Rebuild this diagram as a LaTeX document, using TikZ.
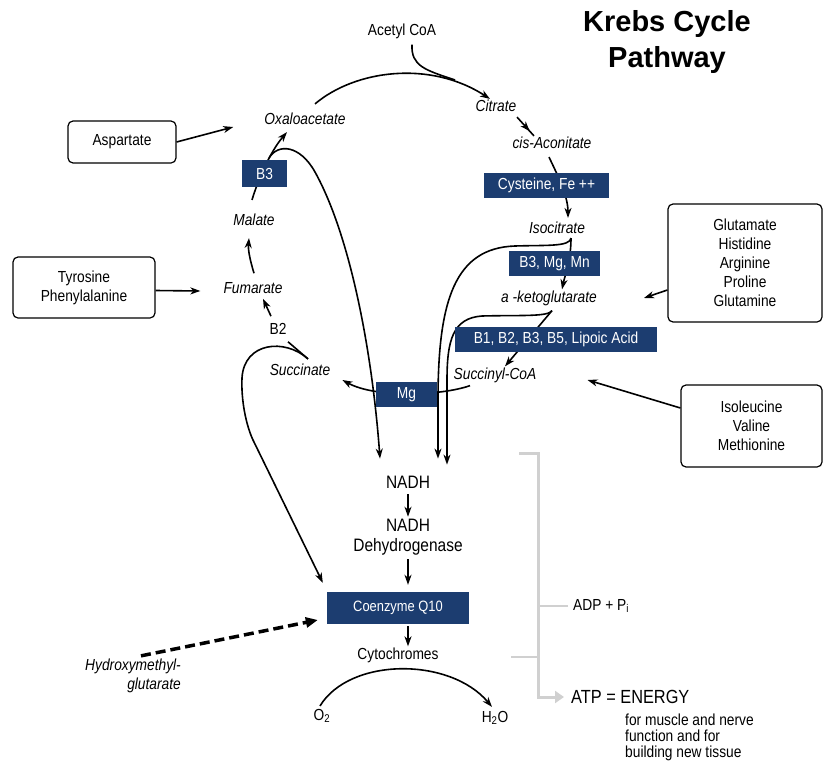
\documentclass[tikz,border=0pt]{standalone}
\usepackage{fontspec}
\setmainfont{Liberation Sans}[FakeStretch=0.86]
\newfontfamily\titlefont{Liberation Sans}
\usepackage{tikz}
\usetikzlibrary{arrows.meta,positioning,calc,decorations.markings}
\definecolor{vitblue}{RGB}{28,61,112}
\definecolor{bargray}{RGB}{208,208,208}

\begin{document}
\begin{tikzpicture}[x=1pt,y=-1pt,
    lbl/.style={font=\fontsize{16}{19}\selectfont, inner sep=1pt},
    met/.style={inner sep=1pt, font=\fontsize{16}{19}\selectfont\itshape},
    vit/.style={fill=vitblue, text=white, font=\fontsize{16}{19}\selectfont, minimum height=25pt, inner sep=2pt},
    amino/.style={draw, rounded corners=5pt, line width=1.2pt, align=center, font=\fontsize{16}{19}\selectfont},
    arr/.style={line width=1.6pt, -{Stealth[length=10pt,width=7pt,inset=3pt]}},
    midarr/.style={line width=1.6pt, postaction={decorate}, decoration={markings, mark=at position 0.75 with {\arrow{Stealth[length=10pt,width=7pt,inset=3pt]}}}},
    bracket/.style={draw=bargray, line width=3pt}]
    \useasboundingbox (0,0) rectangle (828,763);

    \node[font=\titlefont\bfseries\fontsize{29}{36}\selectfont, align=center] (title) at (667,42) {Krebs Cycle\\Pathway};

    % cycle intermediates
    \node[lbl] (acetyl) at (402,31) {Acetyl CoA};
    \node[met] (citrate) at (496,106) {Citrate};
    \node[met] (cisacon) at (552,143) {cis-Aconitate};
    \node[met] (isocit) at (557,228) {Isocitrate};
    \node[met] (akg) at (549,298) {a -ketoglutarate};
    \node[met] (succoa) at (495,375) {Succinyl-CoA};
    \node[met] (succin) at (300,370) {Succinate};
    \node[lbl] (b2) at (278,329) {B2};
    \node[met] (fumar) at (253,288) {Fumarate};
    \node[met] (malate) at (254,220) {Malate};
    \node[met] (oxalo) at (305,119) {Oxaloacetate};

    % amino acids feeding in
    \node[amino, minimum width=108pt, minimum height=42pt] (asp) at (122,142) {Aspartate};
    \node[amino, minimum width=142pt, minimum height=61pt] (tyr) at (84,287.5) {Tyrosine\\Phenylalanine};
    \node[amino, minimum width=154pt, minimum height=118pt] (glu) at (745,263) {Glutamate\\Histidine\\Arginine\\Proline\\Glutamine};
    \node[amino, minimum width=141pt, minimum height=82pt] (ile) at (751.5,426) {Isoleucine\\Valine\\Methionine};

    % electron transport
    \node[lbl, font=\fontsize{18}{20}\selectfont] (nadh) at (408,482) {NADH};
    \node[lbl, font=\fontsize{18}{20}\selectfont, align=center] (dehyd) at (408,537) {NADH\\Dehydrogenase};
    \node[vit, minimum width=142pt, minimum height=32pt, font=\fontsize{15}{18}\selectfont] (coq) at (398,608) {Coenzyme Q10};
    \node[lbl] (cyto) at (398,655) {Cytochromes};
    \node[lbl] (o2) at (322,716) {O\textsubscript{2}};
    \node[lbl] (h2o) at (495,718) {H\textsubscript{2}O};
    \node[met, align=right, anchor=east] (hmg) at (182,676) {Hydroxymethyl-\\glutarate};

    % energy output
    \node[lbl, anchor=west] (adp) at (572,606) {ADP + P\textsubscript{i}};
    \node[lbl, anchor=west, font=\fontsize{19}{22}\selectfont] (atp) at (570,697) {ATP = ENERGY};
    \node[lbl, anchor=north west, align=left, font=\fontsize{16}{16}\selectfont] (note) at (624,713) {for muscle and nerve\\function and for\\building new tissue};

    % Cycle arrows
    \coordinate (merge) at (455,80);
    \draw[arr] ([xshift=10pt,yshift=8pt]oxalo.north) .. controls (355,70) and (430,60) .. ([xshift=-6pt]citrate.north);
    \draw[line width=1.6pt] ([xshift=10pt,yshift=-5pt]acetyl.south) .. controls (411,66) and (425,70) .. (merge);
    \draw[midarr] ([xshift=21pt,yshift=-4pt]citrate.south) -- ([xshift=-18pt]cisacon.north);
    \draw[arr] ([xshift=-3pt,yshift=-7pt]cisacon.south) .. controls (556,172) and (568,195) .. ([xshift=11pt,yshift=3pt]isocit.north);
    \draw[arr] ([xshift=14pt,yshift=-3pt]isocit.south) .. controls (571,260) and (565,275) .. ([xshift=13pt]akg.north);
    \draw[arr] ([xshift=3pt,yshift=-4pt]akg.south) -- ([xshift=10pt]succoa.north);
    \draw[arr] ([xshift=-25pt,yshift=-2pt]succoa.south) .. controls (440,396) and (375,398) .. ([xshift=11pt,yshift=-10pt]succin.east);
    \draw[line width=1.6pt] ([xshift=8pt,yshift=4pt]succin.north) -- ([xshift=10pt,yshift=-6pt]b2.south);
    \draw[arr] ([xshift=-7pt,yshift=6pt]b2.north) -- ([xshift=10pt,yshift=-4pt]fumar.south);
    \draw[arr] ([xshift=1pt,yshift=8pt]fumar.north) .. controls (250,260) and (248,250) .. ([xshift=-5pt,yshift=-11pt]malate.south);
    \draw[arr] ([xshift=-2pt,yshift=13pt]malate.north) .. controls (258,180) and (270,152) .. ([xshift=-18pt,yshift=-6pt]oxalo.south);

    % NADH branches
    \coordinate (loopstart) at (269,158);
    \draw[arr] (loopstart) .. controls (278,143) and (300,145) .. (315,172) .. controls (350,235) and (372,350) .. ([xshift=-28pt,yshift=16pt]nadh.north);
    \draw[arr] ([xshift=14pt,yshift=-3pt]isocit.south) .. controls (570,247) and (545,245) .. (515,246) .. controls (455,248) and (438,300) .. (438,400) -- ([xshift=30pt,yshift=16pt]nadh.north);
    \draw[arr] ([xshift=3pt,yshift=-4pt]akg.south) .. controls (548,317) and (520,315) .. (482,316) .. controls (453,318) and (447,340) .. (447,380) -- ([xshift=39pt,yshift=10pt]nadh.north);
    \draw[arr] ([xshift=8pt,yshift=4pt]succin.north) .. controls (285,338) and (244,342) .. (242,378) .. controls (241,400) and (246,425) .. (253,440) -- ([xshift=-4pt,yshift=9pt]coq.north west);

    % amino acid arrows
    \draw[arr] (asp.east) -- ([xshift=-30pt,yshift=-8pt]oxalo.west);
    \draw[arr] ([yshift=-3pt]tyr.east) -- ([xshift=-22pt,yshift=-3pt]fumar.west);
    \draw[arr] ([yshift=-27pt]glu.west) -- ([xshift=46pt]akg.east);
    \draw[arr] ([yshift=18pt]ile.west) -- ([xshift=50pt,yshift=-5pt]succoa.east);

    % electron transport chain
    \draw[arr] ([yshift=-5pt]nadh.south) -- ([yshift=1pt]dehyd.north);
    \draw[arr] ([yshift=-3pt]dehyd.south) -- ([yshift=7pt]coq.north -| dehyd.south);
    \draw[arr] ([yshift=-2pt]coq.south -| nadh.south) -- (cyto.north -| nadh.south);
    \draw[arr] ([xshift=-2pt,yshift=2pt]o2.north) .. controls (350,657) and (450,657) .. ([xshift=-3pt,yshift=3pt]h2o.north);
    \draw[line width=3.5pt, dash pattern=on 10pt off 5pt, -{Triangle[length=12pt,width=10pt]}] ([xshift=8pt,yshift=2pt]hmg.north) -- ([xshift=-9pt,yshift=-12pt]coq.west);

    % ATP bracket
    \coordinate (brtop) at (519,453);
    \coordinate (brmid) at (538,453);
    \coordinate (brlow) at (538,697);
    \coordinate (cytick) at (511,657);
    \draw[bracket, -{Triangle[length=9pt,width=12pt]}] (brtop) -- (brmid) -- (brlow) -- ([xshift=-6pt]atp.west);
    \draw[bracket, line width=1.5pt] ([xshift=-4pt]adp.west) -- (adp.west -| brmid);
    \draw[bracket, line width=1.5pt] (cytick) -- (cytick -| brmid);

    % vitamin / mineral cofactors
    \node[vit, minimum width=125pt] (cys) at (546.5,185.5) {Cysteine, Fe ++};
    \node[vit, minimum width=91pt] (b3mg) at (554.5,263.5) {B3, Mg, Mn};
    \node[vit, minimum width=202pt] (bgrp) at (556,339.5) {B1, B2, B3, B5, Lipoic Acid};
    \node[vit, minimum width=61pt] (mg) at (406.5,394.5) {Mg};
    \node[vit, minimum width=45pt, minimum height=27pt] (b3) at (264.5,173.5) {B3};
\end{tikzpicture}
\end{document}
